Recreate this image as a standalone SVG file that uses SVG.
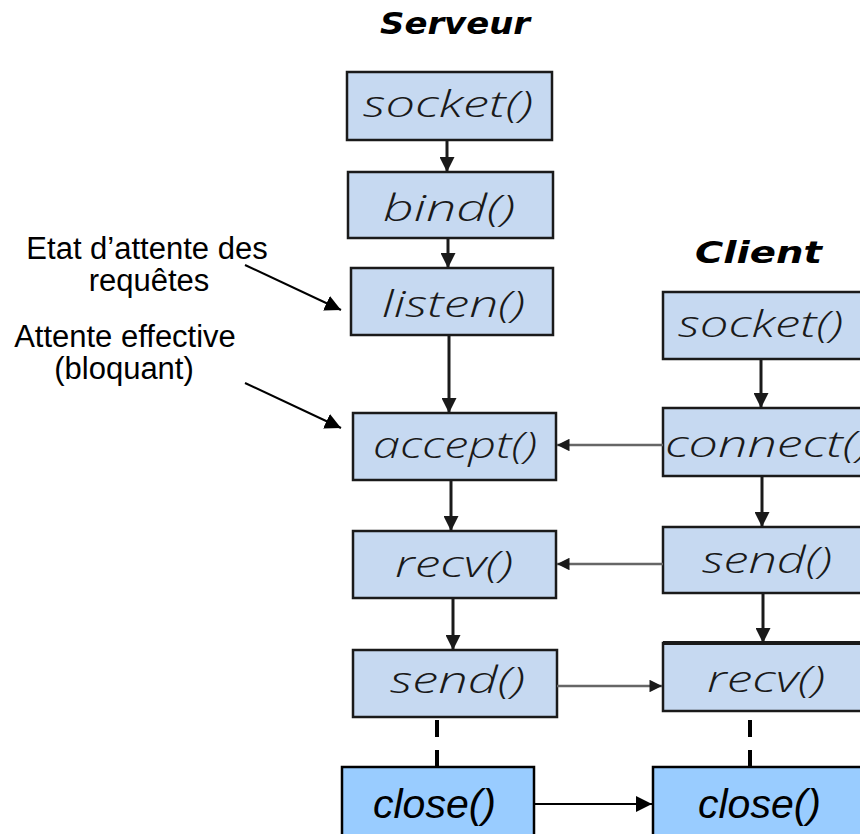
<svg xmlns="http://www.w3.org/2000/svg" width="860" height="834" viewBox="0 0 860 834">
<style>
.box{fill:#c6d9f1;stroke:#1a1a1a;stroke-width:2.5}
.cbox{fill:#99ccff;stroke:#000;stroke-width:2.5}
.fn{font-family:"Open Sans","DejaVu Sans",sans-serif;font-style:italic;font-weight:300;font-size:36px;fill:#1a1a1a}
.title{font-family:"DejaVu Sans",sans-serif;font-style:italic;font-weight:bold;font-size:30px;fill:#000}
.close{font-family:"Liberation Sans",Arial,sans-serif;font-style:italic;font-weight:normal;font-size:41px;fill:#000}
.lbl{font-family:"Liberation Sans",Arial,sans-serif;font-size:31px;fill:#000}
.v{stroke:#1a1a1a;stroke-width:3;fill:none;marker-end:url(#dh)}
.h{stroke:#666;stroke-width:2.5;fill:none;marker-end:url(#hh)}
.k{stroke:#000;stroke-width:2;fill:none;marker-end:url(#bh)}
.dash{stroke:#000;stroke-width:4;stroke-dasharray:17 13;fill:none}
</style>
<defs>
<marker id="dh" viewBox="0 0 10 10" refX="10" refY="5" markerWidth="5" markerHeight="5" orient="auto" markerUnits="strokeWidth">
<path d="M0,0 L10,5 L0,10 Z" fill="#1a1a1a"/>
</marker>
<marker id="hh" viewBox="0 0 10 10" refX="10" refY="5" markerWidth="9" markerHeight="5" orient="auto" markerUnits="strokeWidth">
<path d="M0,0 L10,5 L0,10 Z" fill="#1a1a1a"/>
</marker>
<marker id="bh" viewBox="0 0 10 10" refX="10" refY="5" markerWidth="8" markerHeight="8" orient="auto" markerUnits="strokeWidth">
<path d="M0,0 L10,5 L0,10 Z" fill="#000"/>
</marker>
</defs>

<text class="title" x="380" y="34" textLength="150" lengthAdjust="spacingAndGlyphs">Serveur</text>
<text class="title" x="695" y="263" textLength="127" lengthAdjust="spacingAndGlyphs">Client</text>

<g id="s_socket"><rect class="box" x="347" y="72" width="205" height="68"/><text class="fn" x="363" y="117" textLength="170" lengthAdjust="spacingAndGlyphs">socket()</text></g>
<g id="s_bind"><rect class="box" x="348" y="172" width="205" height="66"/><text class="fn" x="383" y="221" textLength="132" lengthAdjust="spacingAndGlyphs">bind()</text></g>
<g id="s_listen"><rect class="box" x="351" y="268" width="202" height="67"/><text class="fn" x="382" y="317" textLength="143" lengthAdjust="spacingAndGlyphs">listen()</text></g>
<g id="s_accept"><rect class="box" x="353" y="413" width="203" height="67"/><text class="fn" x="373" y="458" textLength="164" lengthAdjust="spacingAndGlyphs">accept()</text></g>
<g id="s_recv"><rect class="box" x="353" y="531" width="203" height="67"/><text class="fn" x="395" y="577" textLength="118" lengthAdjust="spacingAndGlyphs">recv()</text></g>
<g id="s_send"><rect class="box" x="353" y="650" width="204" height="67"/><text class="fn" x="390" y="693" textLength="135" lengthAdjust="spacingAndGlyphs">send()</text></g>
<g id="s_close"><rect class="cbox" x="342" y="767" width="192" height="70"/><text class="close" x="373" y="818">close()</text></g>

<g id="c_socket"><rect class="box" x="663" y="292" width="210" height="67"/><text class="fn" x="678" y="337" textLength="165" lengthAdjust="spacingAndGlyphs">socket()</text></g>
<g id="c_connect"><rect class="box" x="663" y="408" width="210" height="68"/><text class="fn" x="665" y="457" textLength="205" lengthAdjust="spacingAndGlyphs">connect()</text></g>
<g id="c_send"><rect class="box" x="663" y="527" width="210" height="66"/><text class="fn" x="702" y="573" textLength="130" lengthAdjust="spacingAndGlyphs">send()</text></g>
<g id="c_recv"><rect class="box" x="663" y="643" width="210" height="68"/><line x1="663" y1="643" x2="860" y2="643" stroke="#1a1a1a" stroke-width="4"/><text class="fn" x="707" y="692" textLength="118" lengthAdjust="spacingAndGlyphs">recv()</text></g>
<g id="c_close"><rect class="cbox" x="653" y="767" width="220" height="70"/><text class="close" x="698" y="818">close()</text></g>

<g id="lbl1"><text class="lbl" x="147" y="259" text-anchor="middle">Etat d’attente des</text><text class="lbl" x="149" y="291" text-anchor="middle">requêtes</text></g>
<g id="lbl2"><text class="lbl" x="125" y="347" text-anchor="middle">Attente effective</text><text class="lbl" x="124" y="379" text-anchor="middle">(bloquant)</text></g>

<g id="connectors">
<line class="v" x1="447" y1="140" x2="447" y2="172"/>
<line class="v" x1="448" y1="238" x2="448" y2="268"/>
<line class="v" x1="449" y1="335" x2="449" y2="413"/>
<line class="v" x1="451" y1="480" x2="451" y2="531"/>
<line class="v" x1="453" y1="598" x2="453" y2="650"/>
<line class="v" x1="761" y1="359" x2="761" y2="408"/>
<line class="v" x1="762" y1="476" x2="762" y2="527"/>
<line class="v" x1="763" y1="593" x2="763" y2="643"/>
<line class="h" x1="663" y1="445" x2="557" y2="445"/>
<line class="h" x1="663" y1="564" x2="557" y2="564"/>
<line class="h" x1="557" y1="686" x2="662" y2="686"/>
<line class="k" x1="534" y1="804" x2="652" y2="804"/>
<line class="k" x1="245" y1="265" x2="341" y2="310"/>
<line class="k" x1="245" y1="383" x2="341" y2="428"/>
<line class="dash" x1="437" y1="720" x2="437" y2="767"/>
<line class="dash" x1="750" y1="720" x2="750" y2="767"/>
</g>
</svg>
